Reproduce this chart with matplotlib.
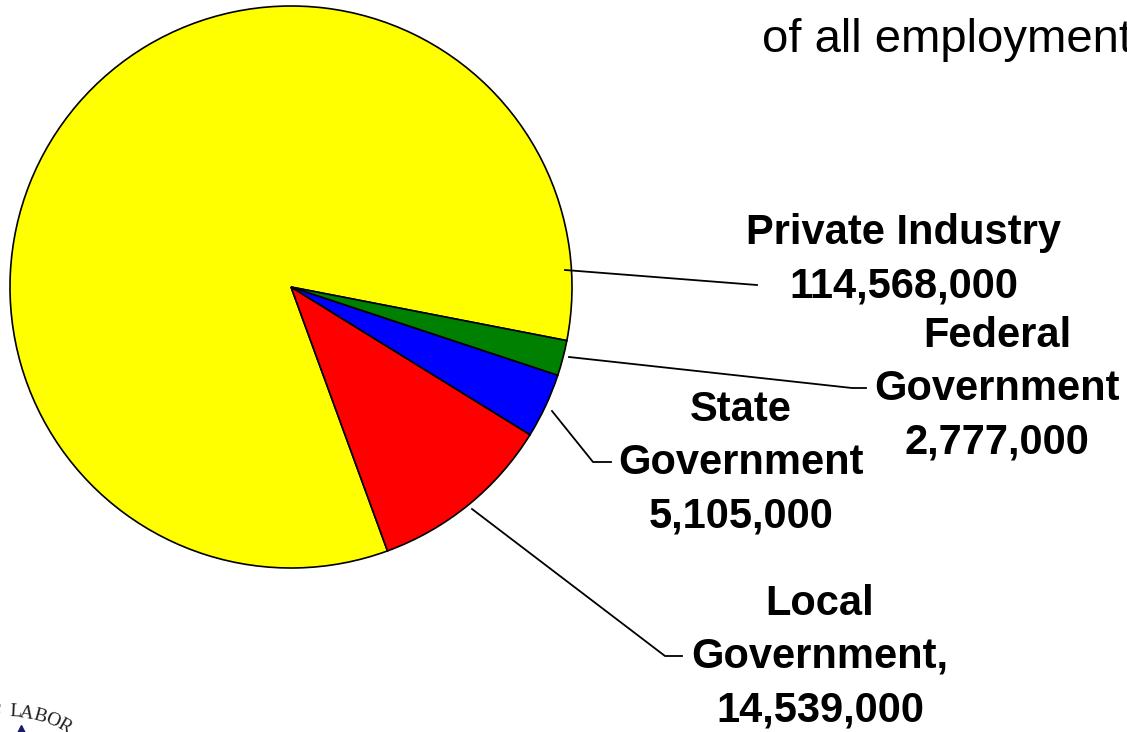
import numpy as np
import matplotlib
matplotlib.use('Agg')
import matplotlib.pyplot as plt

# Employment by sector
sectors = ['Private Industry', 'Local Government', 'State Government', 'Federal Government']
employment = [114568000, 14539000, 5105000, 2777000]
colors = ['#FFFF00', '#FF0000', '#0000FF', '#008000']

labels = ['Private Industry\n114,568,000',
          'Local\nGovernment,\n14,539,000',
          'State\nGovernment\n5,105,000',
          'Federal\nGovernment\n2,777,000']

W, H = 1127, 732
fig = plt.figure(figsize=(W / 100, H / 100), dpi=100)
ax = fig.add_axes([0, 0, 1, 1])

# pie in pixel-like data units, y measured from the bottom
ax.pie(employment, colors=colors, startangle=-11, counterclock=True,
       center=(291, H - 287), radius=281,
       wedgeprops=dict(edgecolor='black', linewidth=1.2))

ax.set_xlim(0, W)
ax.set_ylim(0, H)
ax.set_aspect('equal')
ax.axis('off')

def px(x, y):
    return x, H - y

# leader lines, pie end first
leaders = [
    [(565, 270), (757, 285)],
    [(472, 509), (665, 656), (682, 656)],
    [(552, 411), (593, 462), (611, 462)],
    [(569, 357), (852, 388), (866, 388)],
]
for pts in leaders:
    xs, ys = zip(*[px(*p) for p in pts])
    ax.plot(xs, ys, color='black', linewidth=1.3)

# label positions (centre of text block)
label_pos = [(904, 260), (820, 657), (741, 463), (997, 389)]
for lab, (x, y) in zip(labels, label_pos):
    ax.text(*px(x, y), lab, ha='center', va='center', fontsize=30,
            fontweight='bold', family='Liberation Sans', linespacing=1.43)

# title fragment running off the right edge
ax.text(*px(762, 52), 'of all employment', ha='left', va='baseline',
        fontsize=34, family='Liberation Sans', clip_on=False)

# corner seal lettering
seal_c = np.array(px(10, 820))
seal_r = 108
for ch, ang in zip('FLABOR', [97.5, 87, 81, 74, 67, 60]):
    a = np.radians(ang)
    x = seal_c[0] + seal_r * np.cos(a)
    y = seal_c[1] + seal_r * np.sin(a)
    ax.text(x, y, ch, ha='center', va='center', fontsize=14,
            family='Liberation Serif', rotation=ang - 90, color='#222222')
ax.plot([21], [H - 729], marker='^', color='#1a1a6e', markersize=6)

fig.savefig('out.png', dpi=100)
